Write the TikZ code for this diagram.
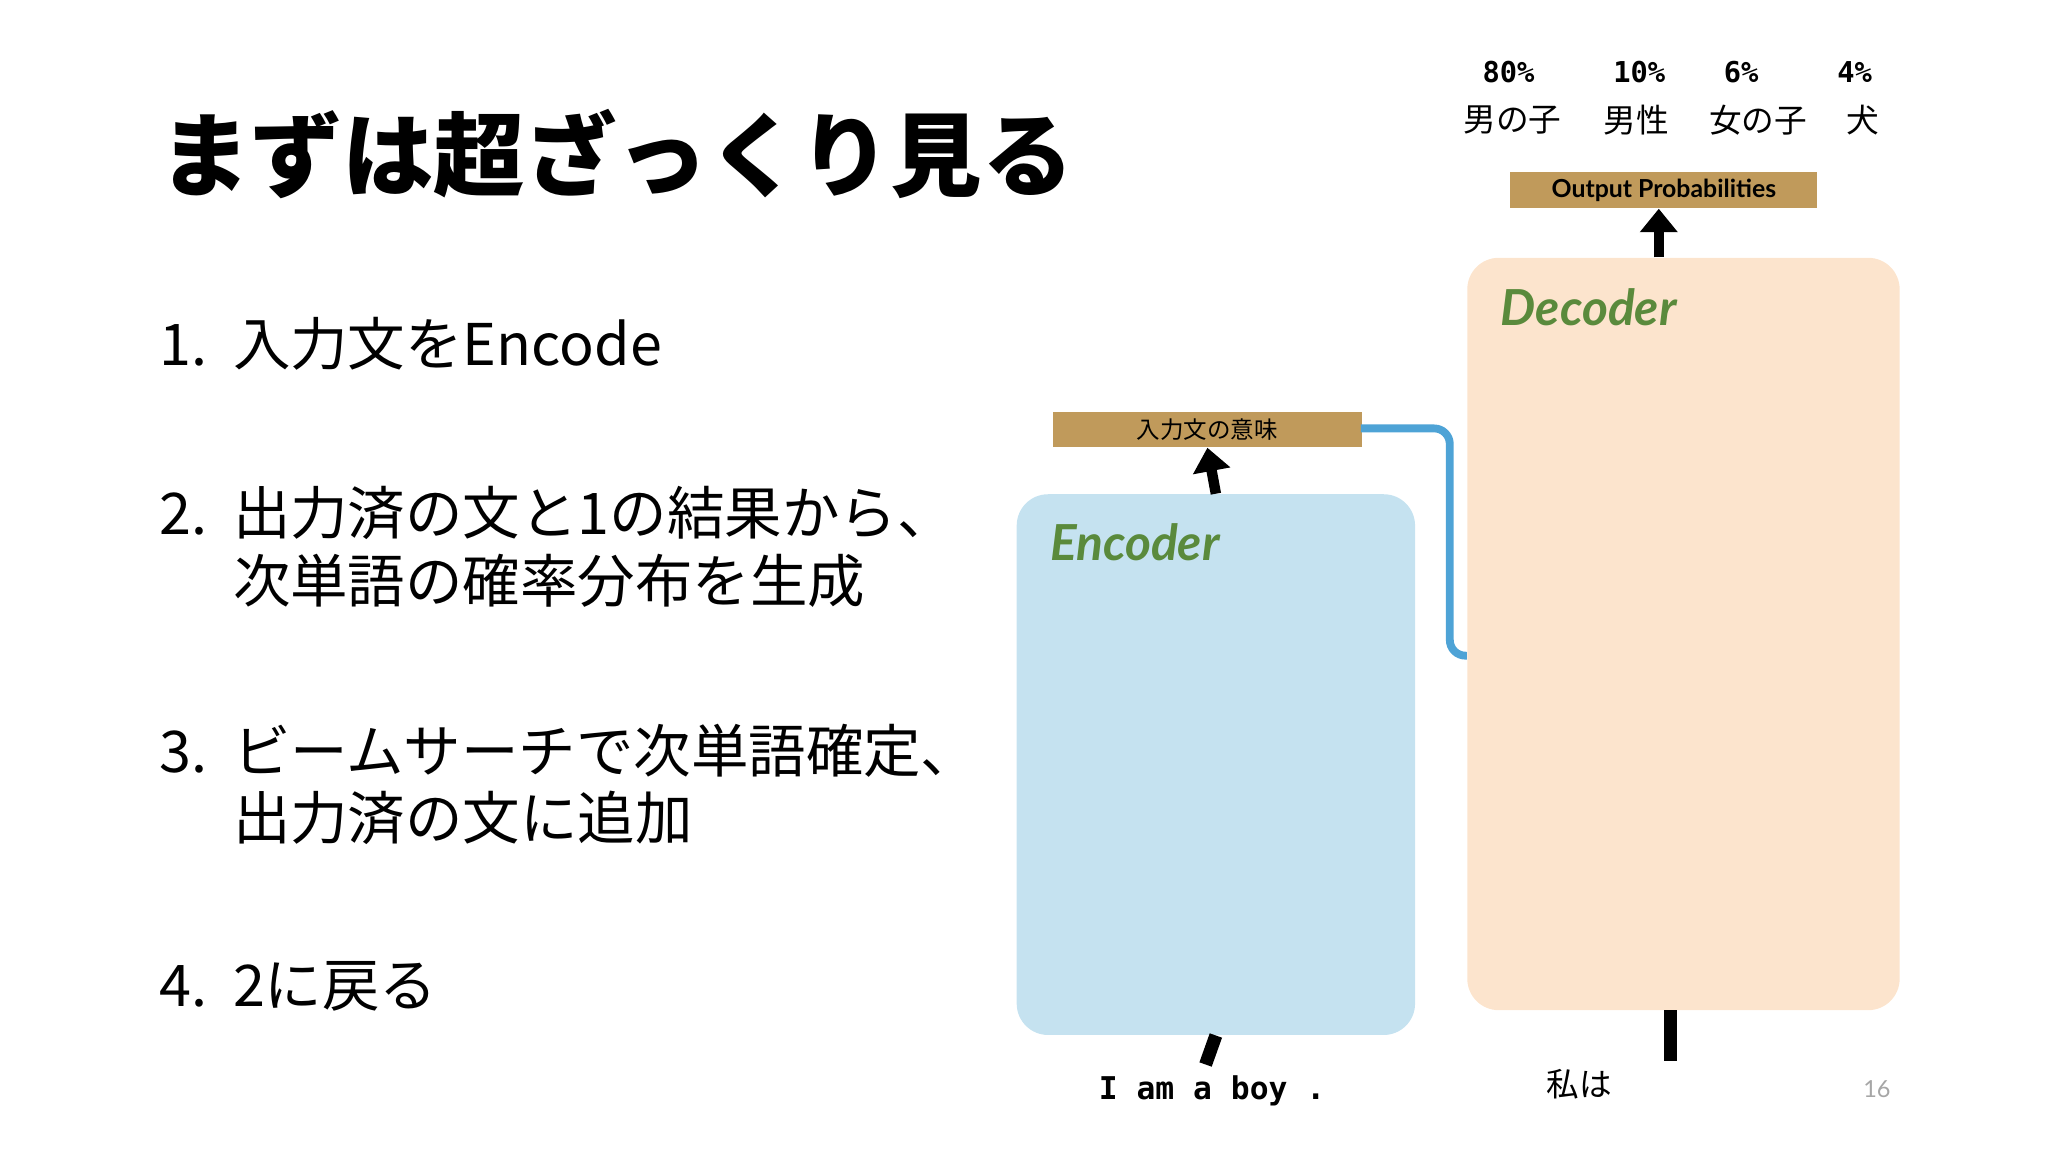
\documentclass[tikz,border=0pt]{standalone}
\usepackage{fontspec}
\setmainfont{Noto Sans CJK JP}
\newfontfamily\jp{Noto Sans CJK JP}
\newfontfamily\mono{DejaVu Sans Mono}
\newfontfamily\lat{Lato}
\usetikzlibrary{arrows.meta}
\definecolor{encc}{HTML}{C5E2F0}
\definecolor{decc}{HTML}{FCE4CD}
\definecolor{tan}{HTML}{C09A5B}
\definecolor{lblue}{HTML}{4EA3D6}
\definecolor{grn}{HTML}{5A8A3C}
\begin{document}
\begin{tikzpicture}[x=0.5pt,y=-0.5pt,
  box/.style={draw=none,rounded corners=12pt,anchor=north west,inner sep=0},
  tanbox/.style={fill=tan,inner sep=0,anchor=north west},
  blk/.style={line width=4pt,-{Triangle[length=9pt,width=14pt]}},
  item/.style={anchor=west,font=\jp\fontsize{22pt}{26pt}\selectfont,align=left},
  prob/.style={font=\mono\bfseries\fontsize{11pt}{13pt}\selectfont},
  word/.style={font=\jp\fontsize{12.5pt}{15pt}\selectfont},
  ttl/.style={anchor=west,font=\lat\bfseries\itshape\fontsize{19pt}{22pt}\selectfont,text=grn}]
\useasboundingbox (0,0) rectangle (1568,882);
\node[anchor=west,font=\jp\bfseries\fontsize{35pt}{40pt}\selectfont] (title) at (115,118) {まずは超ざっくり見る};
\node[item] (i1) at (115,263) {1.\ \ 入力文をEncode};
\node[item,anchor=north west] (i2) at (115,365) {2.\ \ 出力済の文と1の結果から、\\\phantom{2.\ \ }次単語の確率分布を生成};
\node[item,anchor=north west] (i3) at (115,547) {3.\ \ ビームサーチで次単語確定、\\\phantom{3.\ \ }出力済の文に追加};
\node[item] (i4) at (115,755) {4.\ \ 2に戻る};
% encoder
\node[box,fill=encc,minimum width=152.5pt,minimum height=207pt] (enc) at (778,378) {};
\node[ttl] (enct) at (797,415) {Encoder};
\node[tanbox,minimum width=118pt,minimum height=13.5pt] (mean) at (806,315) {};
\node[font=\jp\fontsize{9pt}{10pt}\selectfont] (meant) at (mean.center) {入力文の意味};
\draw[blk] (enc.north) -- (mean.south);
\coordinate (ein) at (923,815);
\draw[line width=5pt] (ein) -- (enc.south);
\node[font=\mono\bfseries\fontsize{12pt}{14pt}\selectfont] (ew) at (928,835) {I am a boy .};
% decoder
\node[box,fill=decc,minimum width=165.5pt,minimum height=288pt] (dec) at (1123,197) {};
\node[ttl] (dect) at (1142,235) {Decoder};
\node[tanbox,minimum width=117.5pt,minimum height=14pt] (op) at (1156,131) {};
\node[font=\lat\bfseries\fontsize{9.5pt}{11pt}\selectfont] (opt) at (op.center) {Output Probabilities};
\coordinate (dtop) at (1270,197);
\draw[blk] (dtop) -- (dtop|-op.south);
\coordinate (din) at (1279,812);
\draw[line width=5pt] (din) -- (1279,773);
\node[word] (dw) at (1209,830) {私は};
% connector
\coordinate (c1) at (1042,328);
\coordinate (c2) at (1123,502);
\draw[lblue,line width=3pt,rounded corners=6pt] (c1) -- (1110,328) -- (1110,502) -- (c2);
% probabilities
\node[prob] (p1) at (1155,55) {80\%};
\node[word] (w1) at (1158,92) {男の子};
\node[prob] (p2) at (1255,55) {10\%};
\node[word] (w2) at (1253,92) {男性};
\node[prob] (p3) at (1333,55) {6\%};
\node[word] (w3) at (1346,92) {女の子};
\node[prob] (p4) at (1420,55) {4\%};
\node[word] (w4) at (1426,92) {犬};
\node[text=gray!70,font=\lat\fontsize{9pt}{10pt}\selectfont] (pg) at (1437,834) {16};
\end{tikzpicture}
\end{document}
